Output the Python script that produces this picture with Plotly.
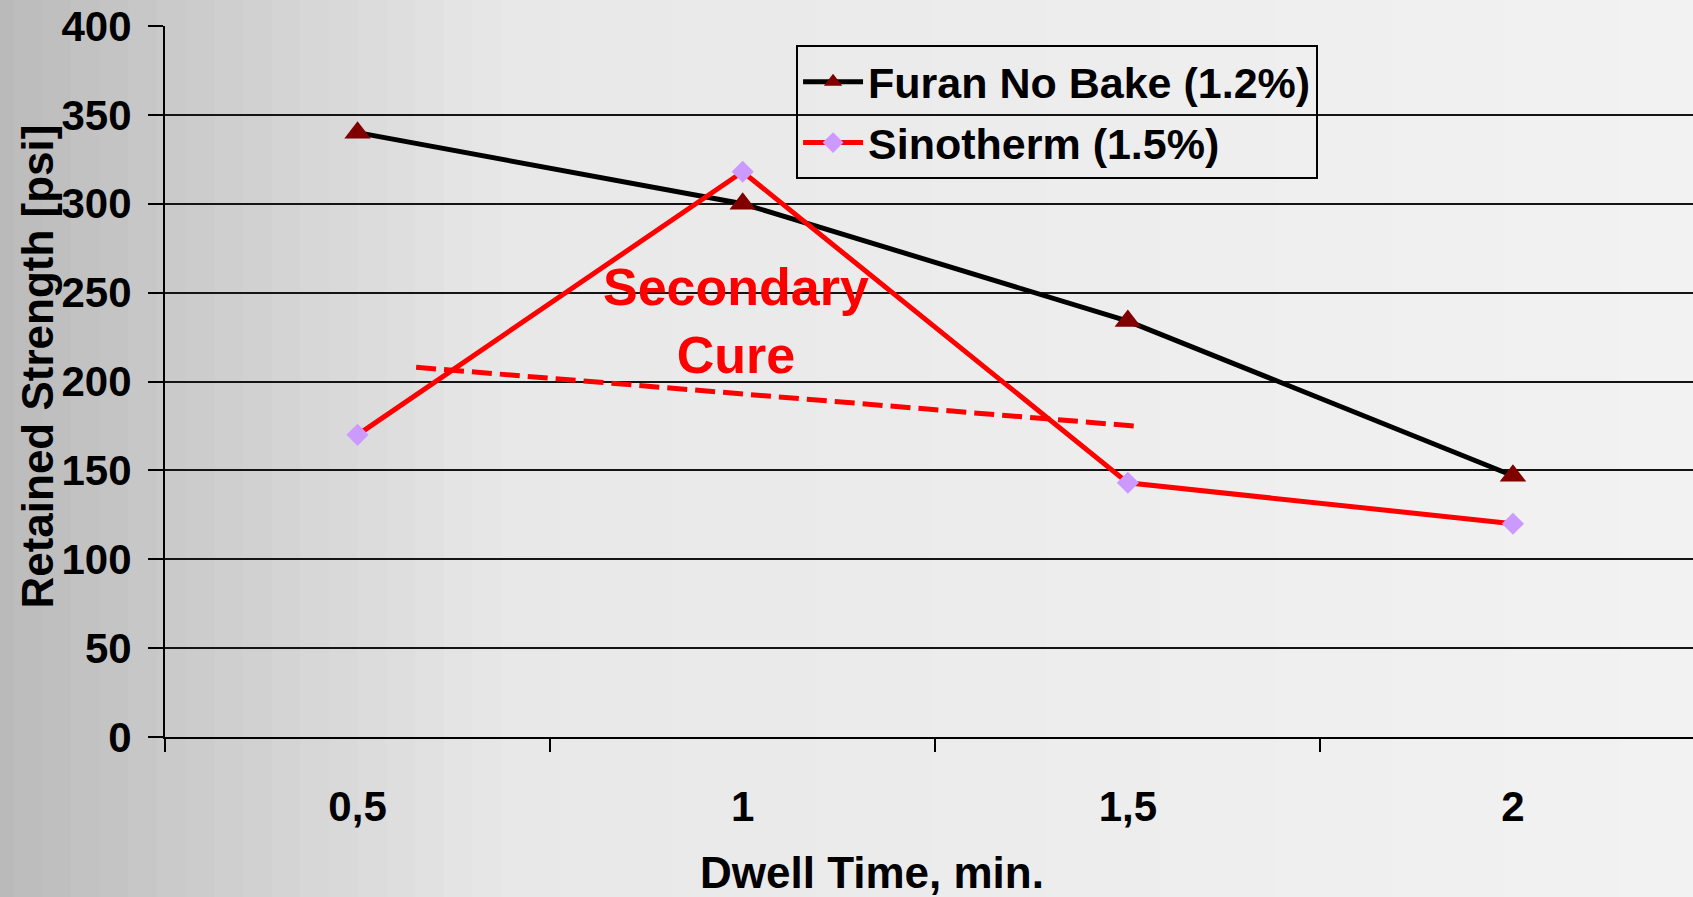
import plotly.graph_objects as go

# ---------------- data ----------------
dwell_time = [0.5, 1.0, 1.5, 2.0]
tick_labels = ["0,5", "1", "1,5", "2"]
furan_strength = [340, 300, 234, 147]
sinotherm_strength = [170, 318, 143, 120]
trend_time = [0.576, 1.508]
trend_strength = [208, 175]
y_ticks = [0, 50, 100, 150, 200, 250, 300, 350, 400]

FONT = "Liberation Sans"

fig = go.Figure()

# brushed-metal-like background (vertical gradient strips)
n = 60
for i in range(n):
    t = i / (n - 1)
    if t < 0.3:
        g = 186 + (t / 0.3) * 46
    else:
        g = 232 + (t - 0.3) / 0.7 * 10
    g = int(round(g))
    fig.add_shape(type="rect", xref="paper", yref="paper",
                  x0=-0.108 + t * 1.108 - 0.01, x1=-0.108 + (i + 1) / (n - 1) * 1.108 + 0.01,
                  y0=-0.23, y1=1.04, line_width=0,
                  fillcolor=f"rgb({g},{g},{g})", layer="below")

fig.add_trace(go.Scatter(
    x=dwell_time, y=furan_strength, name="Furan No Bake (1.2%)",
    mode="lines+markers", legendgroup="a",
    line=dict(color="black", width=5),
    marker=dict(symbol="triangle-up", size=23, color="#800000")))

fig.add_trace(go.Scatter(
    x=dwell_time, y=sinotherm_strength, name="Sinotherm (1.5%)",
    mode="lines+markers", legendgroup="b",
    line=dict(color="#ff0000", width=5),
    marker=dict(symbol="diamond", size=17, color="#cc99ff")))

fig.add_trace(go.Scatter(
    x=trend_time, y=trend_strength, mode="lines", showlegend=False,
    line=dict(color="#ff0000", width=5, dash="20px,8px"), hoverinfo="skip"))

fig.add_annotation(text="Secondary<br>Cure", xref="paper", yref="paper",
                   x=0.3737, y=0.585, xanchor="center", yanchor="middle", showarrow=False,
                   font=dict(family=FONT, size=52, color="#ff0000", weight="bold"))

fig.add_annotation(text="Retained Strength [psi]", xref="paper", yref="paper",
                   x=-0.0831, y=0.521, xanchor="center", yanchor="middle",
                   textangle=-90, showarrow=False,
                   font=dict(family=FONT, size=44, color="black", weight="bold"))

fig.add_annotation(text="Dwell Time, min.", xref="paper", yref="paper",
                   x=0.4624, y=-0.19, xanchor="center", yanchor="middle", showarrow=False,
                   font=dict(family=FONT, size=44, color="black", weight="bold"))

fig.update_layout(
    width=1693, height=897,
    margin=dict(l=165, r=0, t=26, b=160, autoexpand=False),
    paper_bgcolor="#e6e6e6",
    plot_bgcolor="rgba(0,0,0,0)",
    showlegend=True,
    legend=dict(x=0.413, y=0.973, xanchor="left", yanchor="top",
                bgcolor="rgba(0,0,0,0)", bordercolor="black", borderwidth=2,
                tracegroupgap=2, itemwidth=60,
                font=dict(family=FONT, size=43, color="black", weight="bold")),
    xaxis=dict(range=[0.25, 2.25 - 12.5 / 770], tickvals=dwell_time, ticktext=tick_labels,
               ticks="", showgrid=False, zeroline=False, automargin=False,
               showline=True, linecolor="black", linewidth=2,
               ticklabelstandoff=32,
               minor=dict(ticks="outside", tick0=0.25, dtick=0.5, ticklen=13,
                          tickwidth=1.5, tickcolor="black", showgrid=False),
               tickfont=dict(family=FONT, size=42, color="black", weight="bold")),
    yaxis=dict(range=[0, 400], tickvals=y_ticks, ticks="outside", ticklen=15,
               tickwidth=1.5, tickcolor="black", automargin=False,
               showgrid=True, gridcolor="#141414", gridwidth=1.8,
               zeroline=False, showline=True, linecolor="black", linewidth=2,
               ticklabelstandoff=8,
               tickfont=dict(family=FONT, size=42, color="black", weight="bold")),
)

fig.write_html("out.html", config={"displayModeBar": False},
               post_script="document.body.style.margin='0px';document.body.style.overflow='hidden';")
